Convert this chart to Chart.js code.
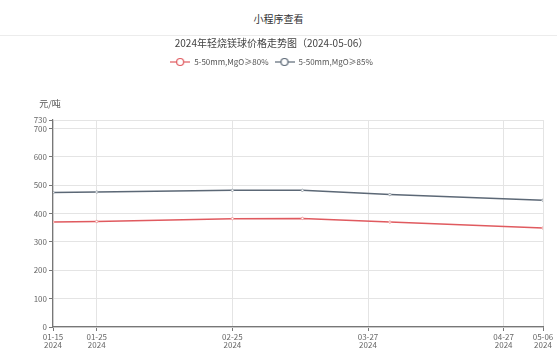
<!DOCTYPE html>
<html><head><meta charset="utf-8">
<script src="https://cdn.jsdelivr.net/npm/chart.js@4.4.0/dist/chart.umd.min.js"></script>
<style>
html,body{margin:0;padding:0;background:#fff;width:557px;height:349px;overflow:hidden;font-family:"Noto Sans CJK SC","Noto Sans",sans-serif;}
#hdr{height:35px;line-height:37px;text-align:center;font-size:10px;color:#333;border-bottom:1px solid #ececec;}
#wrap{position:relative;width:557px;height:313px;}
</style></head>
<body>
<div id="hdr">小程序查看</div>
<div id="wrap"><canvas id="c"></canvas></div>
<script>
const titleText = "2024年轻烧镁球价格走势图（2024-05-06）";
const yUnit = "元/吨";
const seriesNames = ["5-50mm,MgO≥80%", "5-50mm,MgO≥85%"];
// days since 2024-01-15
const pointDays = [0, 10, 41, 57, 77, 112];
const series80 = [370, 372, 382, 383, 370, 349];
const series85 = [474, 476, 482, 482, 467, 447];
const xTickDays = [0, 10, 41, 72, 103, 112];
const xTickLabels = [["01-15","2024"],["01-25","2024"],["02-25","2024"],["03-27","2024"],["04-27","2024"],["05-06","2024"]];
const yTicks = [0,100,200,300,400,500,600,700,730];
const colors = ["#e05a5f", "#5c6876"];

function legendIcon(color){
  const c = document.createElement('canvas');
  c.width = 20; c.height = 10;
  const g = c.getContext('2d');
  g.strokeStyle = color; g.lineWidth = 1.2;
  g.beginPath(); g.moveTo(0,5); g.lineTo(20,5); g.stroke();
  g.fillStyle = '#fff';
  g.beginPath(); g.arc(10,5,3.5,0,Math.PI*2); g.fill(); g.stroke();
  return c;
}

const unitPlugin = {
  id:'unit',
  afterInit(chart){
    const lg = chart.legend;
    if (lg) {
      const orig = lg.fit.bind(lg);
      lg.fit = function(){ orig(); this.height += 44; };
    }
  },
  afterDraw(chart){
    const g = chart.ctx, a = chart.chartArea;
    g.save();
    g.font = '9px "Noto Sans CJK SC"';
    g.fillStyle = '#555';
    g.textAlign = 'center';
    g.textBaseline = 'middle';
    g.fillText(yUnit, a.left - 3, a.top - 16);
    g.restore();
  }
};

const mkData = (vals) => pointDays.map((d,i)=>({x:d,y:vals[i]}));

new Chart(document.getElementById('c'), {
  type:'line',
  data:{datasets:[
    {label:seriesNames[0], data:mkData(series80), borderColor:colors[0], backgroundColor:'#fff', borderWidth:1.5, pointRadius:1.2, pointBorderWidth:1, pointBorderColor:'#f0a0a0', pointBackgroundColor:'#fff', pointStyle:'circle', tension:0},
    {label:seriesNames[1], data:mkData(series85), borderColor:colors[1], backgroundColor:'#fff', borderWidth:1.5, pointRadius:1.2, pointBorderWidth:1, pointBorderColor:'#a0a8b0', pointBackgroundColor:'#fff', pointStyle:'circle', tension:0}
  ]},
  options:{
    responsive:true, maintainAspectRatio:false, animation:false,
    layout:{padding:{left:0,right:14,top:0,bottom:0}},
    plugins:{
      title:{display:true,text:titleText,color:'#444',font:{family:'"Noto Sans CJK SC"',size:10,weight:'normal'},padding:{top:1,bottom:3}},
      legend:{display:true,labels:{usePointStyle:true,pointStyleWidth:20,color:'#555',font:{family:'"Noto Sans CJK SC"',size:8},boxHeight:10,padding:6,
        generateLabels(chart){return chart.data.datasets.map((ds,i)=>({text:ds.label,pointStyle:legendIcon(colors[i]),fontColor:'#555',strokeStyle:colors[i],fillStyle:'#fff',lineWidth:0,hidden:false,datasetIndex:i}));}},
        },
      tooltip:{enabled:false}
    },
    scales:{
      x:{type:'linear',min:0,max:112,
        afterBuildTicks(s){s.ticks = xTickDays.map(v=>({value:v}));},
        afterFit(s){s.height = 22;},
        ticks:{autoSkip:false,maxRotation:0,color:'#666',font:{family:'"Noto Sans CJK SC"',size:8,lineHeight:1.0},padding:2,
          callback(v){const i = xTickDays.indexOf(v); return i>=0?xTickLabels[i]:'';}},
        grid:{color:'#e4e4e4',tickLength:4,tickColor:'#777'},
        border:{color:'#777',width:1.2}
      },
      y:{min:0,max:730,
        afterBuildTicks(s){s.ticks = yTicks.map(v=>({value:v}));},
        afterFit(s){s.width = 53;},
        ticks:{color:'#666',font:{family:'"Noto Sans CJK SC"',size:8},padding:2,autoSkip:false},
        grid:{color:'#e4e4e4',tickLength:4,tickColor:'#777'},
        border:{color:'#777',width:1.2}
      }
    }
  },
  plugins:[unitPlugin]
});
</script>
</body></html>
